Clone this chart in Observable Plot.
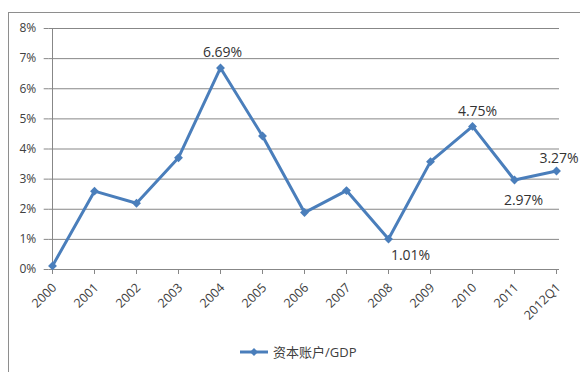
<!DOCTYPE html>
<html>
<head>
<meta charset="utf-8">
<script src="https://cdn.jsdelivr.net/npm/d3@7"></script>
<script src="https://cdn.jsdelivr.net/npm/@observablehq/plot@0.6"></script>
<style>
  body { margin: 0; background: #fff; overflow: hidden; }
  #wrap { position: relative; width: 580px; height: 372px; overflow: hidden;
          font-family: "Open Sans", "Noto Sans CJK SC", sans-serif; }
  #frame { position: absolute; left: 8px; top: 12px; width: 700px; height: 500px;
           border-left: 1px solid #8e8e8e; border-top: 1px solid #8e8e8e; }
  #chart { position: absolute; left: 0; top: 0; }
  #legend { position: absolute; left: 240px; top: 342px; display: flex; align-items: center;
            font-size: 13px; color: #404040; white-space: nowrap; }
  #legend svg { margin-right: 3px; }
</style>
</head>
<body>
<div id="wrap">
  <div id="frame"></div>
  <div id="chart"></div>
  <div id="legend"></div>
</div>
<script>
// Capital account balance as a share of GDP
const years = ["2000", "2001", "2002", "2003", "2004", "2005", "2006",
               "2007", "2008", "2009", "2010", "2011", "2012Q1"];
const ratio = [0.12, 2.60, 2.20, 3.71, 6.69, 4.43, 1.89, 2.62, 1.01, 3.58, 4.75, 2.97, 3.27];
const yTicks = [0, 1, 2, 3, 4, 5, 6, 7, 8];
const labeledYears = ["2004", "2008", "2010", "2011", "2012Q1"];
const seriesName = "资本账户/GDP";

const blue = "#4A7EBB";
const grid = "#878787";
const font = "'Open Sans', 'Noto Sans CJK SC', sans-serif";
const data = years.map((year, i) => ({year, value: ratio[i]}));

// where each value label sits relative to its point
const labelOffset = {
  "2004":   {dx: 2,   dy: -15},
  "2008":   {dx: 22,  dy: 16},
  "2010":   {dx: 5,   dy: -15},
  "2011":   {dx: 9,   dy: 20},
  "2012Q1": {dx: 2.5, dy: -12.5}
};
const labelMarks = labeledYears.map(y => Plot.text(
  data.filter(d => d.year === y),
  {x: "year", y: "value", text: d => d.value.toFixed(2) + "%",
   dx: labelOffset[y].dx, dy: labelOffset[y].dy, lineAnchor: "middle",
   fontSize: 14, fill: "#333"}
));

const chart = Plot.plot({
  width: 580,
  height: 372,
  marginLeft: 48.7,
  marginRight: 21,
  marginTop: 28,
  marginBottom: 103,
  x: {type: "point", domain: years, padding: 0},
  y: {domain: [0, 8]},
  style: {fontFamily: font, background: "transparent"},
  marks: [
    Plot.gridY(yTicks.slice(1), {stroke: grid, strokeOpacity: 1}),
    Plot.axisY(yTicks, {tickFormat: d => d + "%", tickSize: 5, tickPadding: 8,
      stroke: grid, fill: "#404040", fontSize: 12, label: null}),
    Plot.axisX({tickSize: 5, label: null, stroke: grid, text: null}),
    Plot.axisX({tickSize: 0, tickRotate: -45, tickPadding: 13, dx: 2, dy: 3,
      fill: "#404040", fontSize: 12.5, label: null}),
    Plot.ruleX([years[0]], {stroke: grid}),
    Plot.ruleY([0], {stroke: grid}),
    Plot.line(data, {x: "year", y: "value", stroke: blue, strokeWidth: 3}),
    Plot.dot(data, {x: "year", y: "value", symbol: "diamond2", fill: blue, stroke: null, r: 4}),
    ...labelMarks
  ]
});
document.getElementById("chart").append(chart);

// legend: line swatch with a diamond marker, then the series name
const sw = d3.create("svg").attr("width", 30).attr("height", 10);
sw.append("line").attr("x1", 0).attr("x2", 28).attr("y1", 5).attr("y2", 5)
  .attr("stroke", blue).attr("stroke-width", 3);
sw.append("path").attr("d", d3.symbol(d3.symbolDiamond2, 40)())
  .attr("transform", "translate(14,5)").attr("fill", blue);
const legend = document.getElementById("legend");
legend.append(sw.node());
legend.append(document.createTextNode(seriesName));
</script>
</body>
</html>
